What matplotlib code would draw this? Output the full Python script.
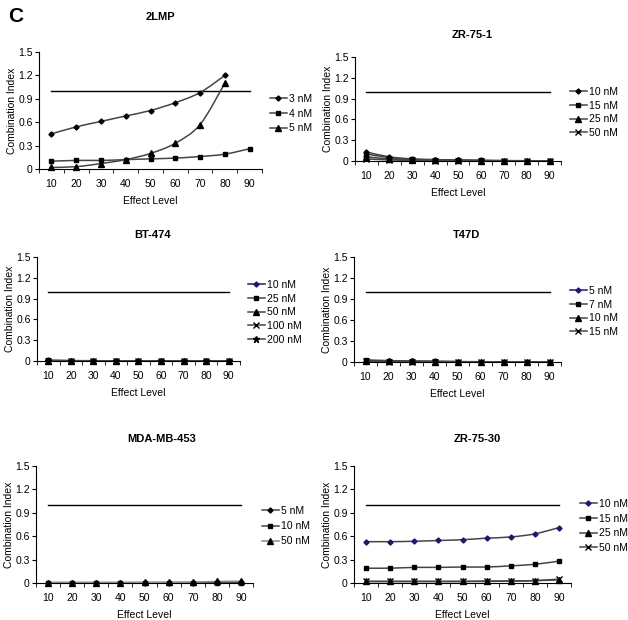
import matplotlib
matplotlib.use("Agg")
import matplotlib.pyplot as plt
import numpy as np
from matplotlib.lines import Line2D
from matplotlib.path import Path
from matplotlib.patches import PathPatch

plt.rcParams["font.family"] = ["Liberation Sans", "DejaVu Sans"]

effect_levels = [10, 20, 30, 40, 50, 60, 70, 80, 90]
yticks = [0, 0.3, 0.6, 0.9, 1.2, 1.5]

# 2LMP
lmp_labels = ["3 nM", "4 nM", "5 nM"]
lmp_3 = [0.45, 0.54, 0.61, 0.68, 0.75, 0.85, 0.98, 1.20]
lmp_4 = [0.10, 0.11, 0.11, 0.12, 0.13, 0.14, 0.16, 0.19, 0.26]
lmp_5 = [0.02, 0.03, 0.07, 0.12, 0.20, 0.33, 0.57, 1.10]

# ZR-75-1
zr1_labels = ["10 nM", "15 nM", "25 nM", "50 nM"]
zr1_10 = [0.13, 0.06, 0.03, 0.02, 0.015, 0.01, 0.006, 0.004, 0.003]
zr1_15 = [0.10, 0.05, 0.025, 0.018, 0.012, 0.008, 0.005, 0.003, 0.002]
zr1_25 = [0.06, 0.03, 0.015, 0.01, 0.008, 0.005, 0.003, 0.002, 0.001]
zr1_50 = [0.03, 0.015, 0.01, 0.007, 0.005, 0.003, 0.002, 0.001, 0.001]

# BT-474
bt_labels = ["10 nM", "25 nM", "50 nM", "100 nM", "200 nM"]
bt_10 = [0.010, 0.006, 0.004, 0.003, 0.003, 0.002, 0.002, 0.002, 0.002]
bt_25 = [0.008, 0.004, 0.003, 0.003, 0.002, 0.002, 0.002, 0.002, 0.002]
bt_50 = [0.006, 0.003, 0.002, 0.002, 0.002, 0.001, 0.001, 0.001, 0.001]
bt_100 = [0.004, 0.002, 0.002, 0.001, 0.001, 0.001, 0.001, 0.001, 0.001]
bt_200 = [0.003, 0.002, 0.001, 0.001, 0.001, 0.001, 0.001, 0.001, 0.001]

# T47D
t47_labels = ["5 nM", "7 nM", "10 nM", "15 nM"]
t47_5 = [0.02, 0.015, 0.01, 0.008, 0.005]
t47_7 = [0.03, 0.02, 0.015, 0.01, 0.006, 0.004, 0.003, 0.003, 0.003]
t47_10 = [0.015, 0.01, 0.008, 0.005, 0.004, 0.003, 0.002, 0.002, 0.002]
t47_15 = [0.01, 0.006, 0.004, 0.003, 0.002, 0.002, 0.001, 0.001, 0.001]

# MDA-MB-453
mda_labels = ["5 nM", "10 nM", "50 nM"]
mda_5 = [0.005, 0.005, 0.005, 0.005, 0.005, 0.006, 0.006, 0.007, 0.008]
mda_10 = [0.004, 0.004, 0.004, 0.004, 0.004, 0.004, 0.005, 0.005, 0.005]
mda_50 = [0.006, 0.006, 0.006, 0.006, 0.007, 0.008, 0.010, 0.020, 0.022]

# ZR-75-30
zr30_labels = ["10 nM", "15 nM", "25 nM", "50 nM"]
zr30_10 = [0.53, 0.53, 0.535, 0.545, 0.555, 0.575, 0.59, 0.63, 0.71]
zr30_15 = [0.19, 0.19, 0.20, 0.20, 0.205, 0.205, 0.22, 0.24, 0.28]
zr30_25 = [0.02, 0.02, 0.02, 0.02, 0.02, 0.02, 0.025, 0.03, 0.04]
zr30_50 = [0.02, 0.02, 0.02, 0.02, 0.02, 0.025, 0.025, 0.03, 0.05]

LINE = "#454545"
NAVY = "#1a1a70"
MARK = {"D": 2.6, "s": 3.4, "^": 3.8, "x": 3.8, "*": 5.0}

W, H = 628, 620


def smooth_path(xs, ys):
    """Excel-style smoothed line: cubic Bezier through every point."""
    pts = np.column_stack([xs, ys]).astype(float)
    verts = [pts[0]]
    codes = [Path.MOVETO]
    n = len(pts)
    for i in range(n - 1):
        p0 = pts[i - 1] if i > 0 else pts[i]
        p1, p2 = pts[i], pts[i + 1]
        p3 = pts[i + 2] if i + 2 < n else pts[i + 1]
        verts += [p1 + (p2 - p0) / 6.0, p2 - (p3 - p1) / 6.0, p2]
        codes += [Path.CURVE4] * 3
    return Path(verts, codes)


def panel(box, title, title_xy, series, leg_xy, leg_space):
    l, r, t, b = box
    ax = fig.add_axes([l / W, 1 - b / H, (r - l) / W, (b - t) / H])
    ax.set_xlim(0.5, 9.5)
    ax.set_ylim(0, 1.5)
    for s in ("top", "right"):
        ax.spines[s].set_visible(False)
    ax.set_yticks(yticks)
    ax.set_yticklabels(["0", "0.3", "0.6", "0.9", "1.2", "1.5"], fontsize=7.5)
    ax.set_xticks(range(1, 10))
    ax.set_xticklabels([str(v) for v in effect_levels], fontsize=7.5)
    ax.set_xticks(np.arange(0.5, 10, 1.0), minor=True)
    ax.tick_params(axis="x", which="major", length=0, pad=7)
    ax.tick_params(axis="x", which="minor", length=3, direction="out")
    ax.tick_params(axis="y", length=3, direction="out", pad=1.5)
    ax.set_xlabel("Effect Level", fontsize=7.5, labelpad=5)
    ax.set_ylabel("Combination Index", fontsize=7.5, labelpad=0.5)
    fig.text(title_xy[0] / W, 1 - title_xy[1] / H, title, fontsize=8,
             fontweight="bold", ha="center", va="center")
    ax.plot([1, 9], [1, 1], color="black", lw=1.0)

    handles = []
    for label, vals, marker, lc, mc in series:
        xs = np.arange(1, len(vals) + 1)
        ax.add_patch(PathPatch(smooth_path(xs, vals), fill=False,
                               edgecolor=lc, lw=1.1, zorder=3))
        ax.plot(xs, vals, ls="none", marker=marker, ms=MARK[marker],
                color=mc, mec=mc, mew=1.0, zorder=4, clip_on=False)
        handles.append(Line2D([], [], color=lc, lw=1.1, marker=marker,
                              ms=MARK[marker], mfc=mc, mec=mc, mew=1.0))
    fig.legend(handles, [s[0] for s in series], loc="upper left",
               bbox_to_anchor=(leg_xy[0] / W, 1 - leg_xy[1] / H),
               frameon=False, fontsize=7.5, handlelength=1.6,
               handletextpad=0.2, labelspacing=leg_space, borderpad=0,
               borderaxespad=0)
    return ax


fig = plt.figure(figsize=(W / 100, H / 100), dpi=100)

panel((39, 262, 52, 169), "2LMP", (160, 17),
      [(lmp_labels[0], lmp_3, "D", LINE, "black"),
       (lmp_labels[1], lmp_4, "s", LINE, "black"),
       (lmp_labels[2], lmp_5, "^", LINE, "black")],
      (270, 94), 0.45)

panel((355, 561, 57, 161), "ZR-75-1", (472, 35),
      [(zr1_labels[0], zr1_10, "D", LINE, "black"),
       (zr1_labels[1], zr1_15, "s", LINE, "black"),
       (zr1_labels[2], zr1_25, "^", LINE, "black"),
       (zr1_labels[3], zr1_50, "x", LINE, "black")],
      (570, 87), 0.35)

panel((37, 240, 257, 361), "BT-474", (153, 235),
      [(bt_labels[0], bt_10, "D", NAVY, NAVY),
       (bt_labels[1], bt_25, "s", LINE, "black"),
       (bt_labels[2], bt_50, "^", LINE, "black"),
       (bt_labels[3], bt_100, "x", LINE, "black"),
       (bt_labels[4], bt_200, "*", LINE, "black")],
      (248, 280), 0.35)

panel((354, 561, 257, 362), "T47D", (467, 235),
      [(t47_labels[0], t47_5, "D", NAVY, NAVY),
       (t47_labels[1], t47_7, "s", LINE, "black"),
       (t47_labels[2], t47_10, "^", LINE, "black"),
       (t47_labels[3], t47_15, "x", LINE, "black")],
      (570, 286), 0.35)

panel((36, 253, 466, 583), "MDA-MB-453", (162, 439),
      [(mda_labels[0], mda_5, "D", LINE, "black"),
       (mda_labels[1], mda_10, "s", LINE, "black"),
       (mda_labels[2], mda_50, "^", "#8a8a8a", "black")],
      (262, 506), 0.5)

panel((354, 571, 466, 583), "ZR-75-30", (477, 439),
      [(zr30_labels[0], zr30_10, "D", LINE, NAVY),
       (zr30_labels[1], zr30_15, "s", LINE, "black"),
       (zr30_labels[2], zr30_25, "^", LINE, "black"),
       (zr30_labels[3], zr30_50, "x", LINE, "black")],
      (580, 499), 0.45)

fig.text(8 / W, 1 - 16 / H, "C", fontsize=15, fontweight="bold",
         va="center", ha="left")

fig.savefig("out.png", dpi=100)
